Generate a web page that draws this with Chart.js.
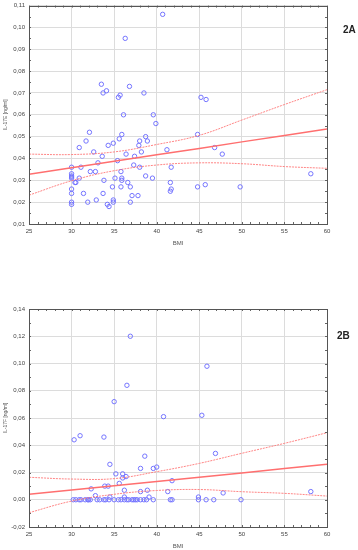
<!DOCTYPE html>
<html lang="en">
<head>
<meta charset="UTF-8">
<title>IL-17 vs BMI</title>
<script src="https://cdn.jsdelivr.net/npm/chart.js@4.4.0/dist/chart.umd.min.js"></script>
<style>
    body { margin: 0; background: #fff; width: 358px; height: 550px; position: relative; overflow: hidden; }
    .box { position: absolute; left: 0; }
    .tag { position: absolute; font: bold 10px "Liberation Sans", Arial, sans-serif; color: #222; }
</style>
</head>
<body>
<div class="box" style="top:-2px"><canvas id="chartA" width="358" height="258"></canvas></div>
<div class="box" style="top:270px"><canvas id="chartB" width="358" height="280"></canvas></div>
<div class="tag" style="left:343px; top:24px">2A</div>
<div class="tag" style="left:337px; top:330px">2B</div>
<script>
    // ---- data ----
    const bmiTicks = [25, 30, 35, 40, 45, 50, 55, 60];

    // 2A: IL-17E
    const bmiA = [40.7, 36.3, 33.5, 33.7, 34.1, 36.8, 35.5, 35.7, 38.5, 36.1, 39.6, 39.9, 32.1, 35.9, 35.6, 38.7,
        45.2, 45.8, 44.8, 31.7, 30.9, 34.3, 34.9, 37.9, 38.0, 38.9, 32.6, 36.4, 38.2, 33.6, 37.4, 33.1, 35.4,
        30.0, 31.1, 37.3, 38.0, 35.8, 32.2, 32.8, 30.0, 30.0, 30.0, 30.0, 30.9, 30.4, 30.5, 33.8, 35.1, 35.9,
        35.9, 38.7, 39.5, 36.6, 34.8, 35.8, 36.9, 30.0, 30.0, 31.4, 33.7, 37.1, 37.8, 32.9, 34.9, 34.9, 31.9,
        36.9, 30.0, 30.0, 34.2, 34.4, 41.7, 41.2, 41.6, 41.7, 41.6, 46.8, 47.7, 58.1, 44.8, 45.7, 49.8];
    const il17e = [0.106, 0.095, 0.074, 0.070, 0.071, 0.073, 0.068, 0.069, 0.070, 0.060, 0.060, 0.056, 0.052, 0.051, 0.049, 0.050,
        0.068, 0.067, 0.051, 0.048, 0.045, 0.046, 0.047, 0.046, 0.048, 0.048, 0.043, 0.042, 0.043, 0.041, 0.041, 0.038, 0.039,
        0.036, 0.036, 0.037, 0.036, 0.034, 0.034, 0.034, 0.033, 0.032, 0.0315, 0.031, 0.031, 0.029, 0.029, 0.030, 0.031, 0.031,
        0.030, 0.032, 0.031, 0.029, 0.027, 0.027, 0.027, 0.026, 0.024, 0.024, 0.024, 0.023, 0.023, 0.021, 0.021, 0.020, 0.020,
        0.020, 0.020, 0.019, 0.019, 0.018, 0.036, 0.044, 0.029, 0.026, 0.025, 0.045, 0.042, 0.033, 0.027, 0.028, 0.027];
    const fitBmi = [25, 30, 35, 40, 45, 50, 55, 60];
    const fitA   = [0.0328, 0.0358, 0.0387, 0.0417, 0.0446, 0.0476, 0.0505, 0.0535];
    const upperA = [0.0420, 0.0418, 0.0430, 0.0464, 0.0506, 0.0576, 0.0647, 0.0715];
    const lowerA = [0.0232, 0.0298, 0.0344, 0.0370, 0.0380, 0.0376, 0.0363, 0.0355];

    // 2B: IL-17F
    const bmiB = [36.9, 36.5, 35.0, 45.9, 40.8, 30.3, 31.0, 33.8, 34.5, 38.6, 35.2, 36.0, 38.1, 39.6, 40.0, 36.0, 36.4,
        35.6, 32.3, 33.9, 34.3, 36.2, 38.9, 38.1, 41.3, 41.8, 32.8, 34.5, 36.2, 39.1, 45.3, 46.9, 47.8, 58.1, 44.9,
        30.2, 30.5, 30.9, 31.1, 31.6, 31.9, 32.0, 32.2, 33.0, 33.3, 33.8, 34.0, 34.4, 35.0, 35.5, 35.8, 36.2, 36.5,
        36.7, 37.1, 37.3, 37.5, 37.7, 38.1, 38.5, 38.8, 39.6, 41.6, 41.8, 44.9, 45.8, 46.7, 49.9];
    const il17f = [0.120, 0.084, 0.072, 0.098, 0.061, 0.044, 0.047, 0.046, 0.026, 0.032, 0.019, 0.019, 0.023, 0.023, 0.024, 0.016, 0.017,
        0.012, 0.008, 0.010, 0.010, 0.007, 0.007, 0.006, 0.006, 0.014, 0.003, 0.002, 0.002, 0.002, 0.062, 0.034, 0.005, 0.006, 0.002,
        0, 0, 0, 0, 0, 0, 0, 0, 0, 0, 0, 0, 0, 0, 0, 0, 0, 0,
        0, 0, 0, 0, 0, 0, 0, 0, 0, 0, 0, 0, 0, 0, 0];
    const fitB   = [0.0040, 0.0071, 0.0103, 0.0134, 0.0166, 0.0197, 0.0229, 0.0260];
    const upperB = [0.0165, 0.0152, 0.0155, 0.0206, 0.0267, 0.0341, 0.0414, 0.0492];
    const lowerB = [-0.0095, -0.0010, 0.0040, 0.0068, 0.0075, 0.0059, 0.0047, 0.0027];

    // ---- helpers ----
    const FONT = '"Liberation Sans", Arial, sans-serif';
    const pts = (xs, ys) => xs.map((x, i) => ({ x: x, y: ys[i] }));
    const comma = v => (v < 0 ? '-' : '') + Math.abs(v).toFixed(2).replace('.', ',');

    // frame + small inward minor ticks on all four sides
    const framePlugin = {
        id: 'frame',
        afterDatasetsDraw(chart) {
            const { ctx, chartArea: a, scales } = chart;
            const xs = scales.x, ys = scales.y;
            ctx.save();
            ctx.strokeStyle = '#666';
            ctx.lineWidth = 1;
            ctx.beginPath();
            for (let v = xs.min; v <= xs.max; v += 1) {
                const px = Math.round(xs.getPixelForValue(v)) + 0.5;
                ctx.moveTo(px, a.top); ctx.lineTo(px, a.top + 2);
                ctx.moveTo(px, a.bottom); ctx.lineTo(px, a.bottom - 2);
            }
            const step = chart.options.scales.y.ticks.stepSize / 2;
            for (let v = ys.min; v <= ys.max + 1e-9; v += step) {
                const py = Math.round(ys.getPixelForValue(v)) + 0.5;
                ctx.moveTo(a.left, py); ctx.lineTo(a.left + 2, py);
                ctx.moveTo(a.right, py); ctx.lineTo(a.right - 2, py);
            }
            ctx.stroke();
            ctx.strokeStyle = '#555';
            ctx.strokeRect(Math.round(a.left) + 0.5, Math.round(a.top) + 0.5,
                Math.round(a.right - a.left), Math.round(a.bottom - a.top));
            ctx.restore();
        }
    };

    function makeChart(id, xs, ys, fit, upper, lower, yMin, yMax, yStep, yTitle, topPad, bottomPad) {
        return new Chart(document.getElementById(id), {
            type: 'scatter',
            data: {
                datasets: [
                    {
                        type: 'line', data: pts(fitBmi, upper), borderColor: 'rgba(255,120,120,0.9)',
                        borderWidth: 1, borderDash: [2, 1], pointRadius: 0, tension: 0.4, fill: false
                    },
                    {
                        type: 'line', data: pts(fitBmi, lower), borderColor: 'rgba(255,120,120,0.9)',
                        borderWidth: 1, borderDash: [2, 1], pointRadius: 0, tension: 0.4, fill: false
                    },
                    {
                        type: 'line', data: pts(fitBmi, fit), borderColor: '#ff6f6f',
                        borderWidth: 1.5, pointRadius: 0, fill: false
                    },
                    {
                        data: pts(xs, ys), pointStyle: 'circle', pointRadius: 2.2,
                        borderColor: '#7474ff', borderWidth: 1, backgroundColor: 'rgba(0,0,0,0)'
                    }
                ]
            },
            options: {
                responsive: false,
                animation: false,
                layout: { padding: { left: 0, right: 31, top: topPad, bottom: bottomPad } },
                plugins: { legend: { display: false }, tooltip: { enabled: false } },
                scales: {
                    x: {
                        type: 'linear', min: 25, max: 60,
                        afterBuildTicks: s => { s.ticks = bmiTicks.map(v => ({ value: v })); },
                        afterFit: s => { s.height = 23; },
                        grid: { color: '#dcdcdc', drawTicks: false },
                        border: { display: false },
                        ticks: { padding: 4, color: '#444', font: { family: FONT, size: 6 } },
                        title: { display: true, text: 'BMI', color: '#555', padding: { top: 3, bottom: 0 }, font: { family: FONT, size: 6 } }
                    },
                    y: {
                        min: yMin, max: yMax,
                        ticks: { stepSize: yStep, padding: 4, color: '#444', font: { family: FONT, size: 6 }, callback: comma },
                        afterFit: s => { s.width = 29; },
                        grid: { color: '#dcdcdc', drawTicks: false },
                        border: { display: false },
                        title: { display: true, text: yTitle, color: '#555', padding: { top: 3, bottom: 0 }, font: { family: FONT, size: 5 } }
                    }
                }
            },
            plugins: [framePlugin]
        });
    }

    makeChart('chartA', bmiA, il17e, fitA, upperA, lowerA, 0.01, 0.11, 0.01, 'IL-17E [ng/ml]', 3, 9);
    makeChart('chartB', bmiB, il17f, fitB, upperB, lowerB, -0.02, 0.14, 0.02, 'IL-17F [ng/ml]', 39, 0);
</script>
</body>
</html>
